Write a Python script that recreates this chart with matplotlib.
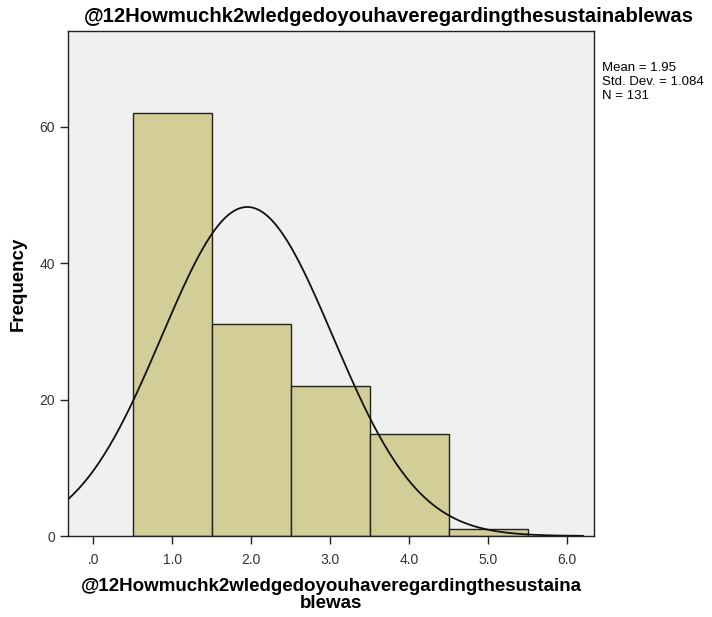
import numpy as np
import matplotlib
matplotlib.use("Agg")
import matplotlib.pyplot as plt

plt.rcParams['font.family'] = ['Liberation Sans', 'DejaVu Sans']

# Dados do histograma
bin_centers = [1.0, 2.0, 3.0, 4.0, 5.0]
frequencias = [62, 31, 22, 15, 1]
x_ticks = [0, 1, 2, 3, 4, 5, 6]
x_ticklabels = ['.0', '1.0', '2.0', '3.0', '4.0', '5.0', '6.0']
y_ticks = [0, 20, 40, 60]
media = 1.95
desvio = 1.084
n_total = 131

titulo = '@12Howmuchk2wledgedoyouhaveregardingthesustainablewas'
rotulo_x = '@12Howmuchk2wledgedoyouhaveregardingthesustaina\nblewas'

fig = plt.figure(figsize=(7.12, 6.17), dpi=100)
ax = fig.add_axes([68 / 712, 1 - 536 / 617, (594 - 68) / 712, (536 - 31) / 617])
ax.set_facecolor('#f0f0f0')

# Barras
ax.bar(bin_centers, frequencias, width=1.0, color='#d3ce98',
       edgecolor='#222222', linewidth=1.0, zorder=2)

# Curva normal (escala: N * largura da classe * densidade)
xlim = (-0.32, 6.34)
xs = np.linspace(xlim[0], 6.2, 400)
ys = n_total * 1.0 / (desvio * np.sqrt(2 * np.pi)) * np.exp(-0.5 * ((xs - media) / desvio) ** 2)
ax.plot(xs, ys, color='#111111', linewidth=1.3, zorder=3)

ax.set_xlim(xlim)
ax.set_ylim(0, 74)
ax.set_xticks(x_ticks)
ax.set_xticklabels(x_ticklabels)
ax.set_yticks(y_ticks)
ax.tick_params(axis='both', direction='out', length=6, width=1,
               labelsize=10, colors='#222222', labelcolor='#333333')
ax.tick_params(axis='x', pad=6)
for s in ax.spines.values():
    s.set_color('#222222')
    s.set_linewidth(1.0)

ax.set_ylabel('Frequency', fontsize=13.5, fontweight='bold', labelpad=9)
ax.set_xlabel(rotulo_x, fontsize=13.5, fontweight='bold', labelpad=8,
              linespacing=1.05)

fig.text(84 / 712, 1 - 16 / 617, titulo, fontsize=14.6, fontweight='bold',
         ha='left', va='center')
fig.text(602 / 712, 1 - 62 / 617,
         'Mean = 1.95\nStd. Dev. = 1.084\nN = 131',
         fontsize=9.5, ha='left', va='top', linespacing=1.2)

fig.savefig('out.png', dpi=100)
